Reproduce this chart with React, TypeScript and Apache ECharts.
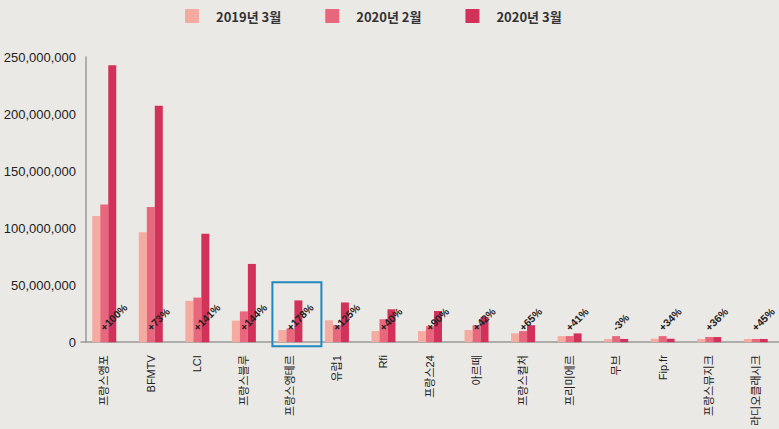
import React, { useEffect, useRef } from "react";
import * as echarts from "echarts";

const categories = [
  "프랑스앵포", "BFMTV", "LCI", "프랑스블루", "프랑스앵테르", "유럽1", "Rfi", "프랑스24",
  "아르떼", "프랑스컬처", "프리미에르", "무브", "Fip.fr", "프랑스뮤지크", "라디오클래시크",
];
const seriesNames = ["2019년 3월", "2020년 2월", "2020년 3월"];
const mar2019 = [110.7, 96.4, 36.2, 18.9, 10.6, 19.2, 9.7, 9.7, 10.6, 7.7, 5.3, 2.8, 3.0, 2.8, 2.8].map((v) => v * 1e6);
const feb2020 = [120.6, 118.5, 39.1, 27.0, 12.0, 14.9, 20.1, 14.0, 14.9, 9.7, 5.3, 5.3, 5.3, 4.5, 2.8].map((v) => v * 1e6);
const mar2020 = [242.8, 207.3, 95.1, 68.6, 36.6, 34.8, 28.8, 27.3, 22.1, 14.9, 7.7, 2.8, 3.0, 4.5, 2.8].map((v) => v * 1e6);
const changeLabels = ["+100%", "+73%", "+141%", "+144%", "+178%", "+125%", "+40%", "+90%", "+42%", "+65%", "+41%", "-3%", "+34%", "+36%", "+45%"];
const yTicks = { min: 0, max: 250000000, interval: 50000000 };
const highlightIndex = 4;

const colors = ["#f5aba0", "#e8677d", "#d2325a"];
const FONT = "'Liberation Sans Narrow', 'Liberation Sans', 'Noto Sans CJK KR', sans-serif";

export default function App() {
  const ref = useRef<HTMLDivElement>(null);
  useEffect(() => {
    if (!ref.current) return;
    const chart = echarts.init(ref.current, null, { renderer: "svg" });
    const values = [mar2019, feb2020, mar2020];
    chart.setOption({
      animation: false,
      backgroundColor: "#ebe9e6",
      color: colors,
      legend: {
        top: 4,
        left: 180,
        itemWidth: 14,
        itemHeight: 14,
        itemGap: 44,
        icon: "rect",
        textStyle: { fontFamily: "'Noto Sans CJK KR', sans-serif", fontWeight: "bold", fontSize: 13, color: "#333", padding: [0, 0, 0, 12] },
        data: seriesNames,
      },
      grid: { left: 81, right: 0, top: 57, bottom: 83.5 },
      xAxis: {
        type: "category",
        data: categories,
        axisLine: { lineStyle: { color: "#999", width: 1.5 } },
        axisTick: { show: false },
        axisLabel: { rotate: 90, margin: 13, fontSize: 11, color: "#222", fontFamily: FONT, interval: 0 },
      },
      yAxis: {
        type: "value",
        offset: -5,
        min: yTicks.min,
        max: yTicks.max,
        interval: yTicks.interval,
        axisLine: { show: true, lineStyle: { color: "#999", width: 1.5 } },
        axisTick: { show: false },
        splitLine: { show: false },
        axisLabel: {
          margin: 10,
          fontSize: 13,
          color: "#222",
          fontFamily: "'Liberation Sans', sans-serif",
          formatter: (v: number) => v.toLocaleString("en-US"),
        },
      },
      series: seriesNames.map((name, i) => ({
        name,
        type: "bar",
        data: values[i],
        barWidth: 8,
        barGap: "0%",
        label:
          i === 2
            ? {
                show: true,
                position: "insideBottom",
                distance: 13,
                rotate: 45,
                align: "left",
                verticalAlign: "middle",
                offset: [-7, -7],
                fontSize: 10.5,
                fontWeight: "bold",
                color: "#222",
                fontFamily: FONT,
                formatter: (p: any) => changeLabels[p.dataIndex],
              }
            : { show: false },
      })),
    });
    const cx = chart.convertToPixel({ xAxisIndex: 0 }, highlightIndex) as number;
    const y0 = chart.convertToPixel({ yAxisIndex: 0 }, 0) as number;
    chart.setOption({
      graphic: [
        {
          type: "rect",
          shape: { x: cx - 18, y: y0 - 60, width: 49, height: 64 },
          style: { fill: "none", stroke: "#1f88bf", lineWidth: 2 },
          z: 100,
        },
      ],
    });
    return () => chart.dispose();
  }, []);
  return <div ref={ref} style={{ position: "absolute", left: 0, top: 0, width: 779, height: 429 }} />;
}
